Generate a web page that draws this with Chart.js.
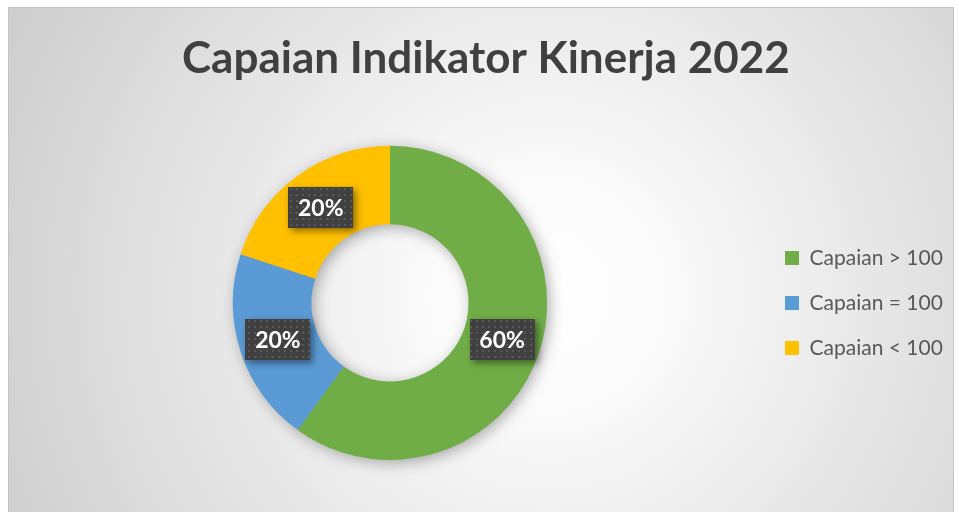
<!DOCTYPE html>
<html>
<head>
<meta charset="utf-8">
<script src="https://cdn.jsdelivr.net/npm/chart.js@4.4.0/dist/chart.umd.min.js"></script>
<style>
  html, body { margin: 0; padding: 0; background: #fff; }
  body { width: 959px; height: 512px; overflow: hidden; position: relative; }
  #frame {
    position: absolute; left: 8px; top: 7px; width: 944px; height: 520px;
    border: 1px solid #c4c4c4;
    background: radial-gradient(circle farthest-corner at 57% 55%, #ffffff 0%, #fbfbfb 18%, #cdcdcd 100%);
  }
  #wrap { position: absolute; left: 0; top: 0; width: 959px; height: 512px; }
</style>
</head>
<body>
<div id="frame"></div>
<div id="wrap"><canvas id="chart" width="959" height="512"></canvas></div>
<script>
const categories = ["Capaian > 100", "Capaian = 100", "Capaian < 100"];
const shares = [60, 20, 20];
const colors = ["#70AD47", "#5B9BD5", "#FFC000"];
const chartTitle = "Capaian Indikator Kinerja 2022";

const fontFamily = "Lato, 'Open Sans', sans-serif";
const legendFont = 21;

// legend width depends on text, so work out the right padding from it
const measure = document.createElement("canvas").getContext("2d");
measure.font = legendFont + "px " + fontFamily;
const textW = Math.max(...categories.map(c => measure.measureText(c).width));
const legendPad = 24;
const legendLeft = 761;
const padRight = Math.max(0, 959 - (legendLeft + legendPad + 14 + legendFont / 2 + textW + 10));

// small dot texture for the value boxes
const dotCanvas = document.createElement("canvas");
dotCanvas.width = 6; dotCanvas.height = 6;
const dctx = dotCanvas.getContext("2d");
dctx.fillStyle = "rgba(255,255,255,0.13)";
dctx.fillRect(2, 2, 2, 2);
const dotPattern = dctx.createPattern(dotCanvas, "repeat");

// soft drop shadow behind the ring
const ringShadow = {
    id: "ringShadow",
    beforeDatasetsDraw(chart) {
        const arc = chart.getDatasetMeta(0).data[0];
        if (!arc) return;
        const { x, y, outerRadius, innerRadius } = arc.getProps(["x", "y", "outerRadius", "innerRadius"]);
        const ctx = chart.ctx;
        ctx.save();
        ctx.shadowColor = "rgba(0,0,0,0.35)";
        ctx.shadowBlur = 15;
        ctx.shadowOffsetX = 3;
        ctx.shadowOffsetY = 3;
        ctx.fillStyle = "#999";
        ctx.beginPath();
        ctx.arc(x, y, outerRadius - 1, 0, Math.PI * 2);
        ctx.arc(x, y, innerRadius + 1, 0, Math.PI * 2, true);
        ctx.fill("evenodd");
        ctx.restore();
    }
};

// percentage boxes at the middle of each slice
const valueBoxes = {
    id: "valueBoxes",
    afterDatasetsDraw(chart) {
        const ctx = chart.ctx;
        const meta = chart.getDatasetMeta(0);
        const total = shares.reduce((a, b) => a + b, 0);
        ctx.save();
        ctx.font = "bold 23px " + fontFamily;
        meta.data.forEach((arc, i) => {
            const p = arc.tooltipPosition();
            const text = Math.round(shares[i] / total * 100) + "%";
            const w = Math.round(ctx.measureText(text).width + 19), h = 41;
            const bx = Math.round(p.x - w / 2), by = Math.round(p.y - h / 2);
            ctx.save();
            ctx.shadowColor = "rgba(0,0,0,0.45)";
            ctx.shadowBlur = 7;
            ctx.shadowOffsetX = 3;
            ctx.shadowOffsetY = 3;
            ctx.fillStyle = "#404040";
            ctx.fillRect(bx, by, w, h);
            ctx.restore();
            ctx.fillStyle = dotPattern;
            ctx.fillRect(bx, by, w, h);
            ctx.fillStyle = "#ffffff";
            ctx.textAlign = "center";
            ctx.textBaseline = "middle";
            ctx.fillText(text, p.x, p.y + 1);
        });
        ctx.restore();
    }
};

const ctx = document.getElementById("chart").getContext("2d");
new Chart(ctx, {
    type: "doughnut",
    data: {
        labels: categories,
        datasets: [{
            data: shares,
            backgroundColor: colors,
            borderWidth: 0,
            hoverOffset: 0,
            offset: 0
        }]
    },
    options: {
        responsive: false,
        animation: false,
        events: [],
        cutout: "50%",
        layout: {
            padding: { left: 19, right: padRight, top: 0, bottom: 52 }
        },
        plugins: {
            title: {
                display: true,
                text: chartTitle,
                color: "#404040",
                font: { family: fontFamily, size: 44, weight: "bold" },
                padding: { top: 32, bottom: 61 }
            },
            legend: {
                position: "right",
                fullSize: false,
                labels: {
                    boxWidth: 14,
                    boxHeight: 14,
                    padding: legendPad,
                    color: "#595959",
                    font: { family: fontFamily, size: legendFont }
                }
            },
            tooltip: { enabled: false }
        }
    },
    plugins: [ringShadow, valueBoxes]
});
</script>
</body>
</html>
